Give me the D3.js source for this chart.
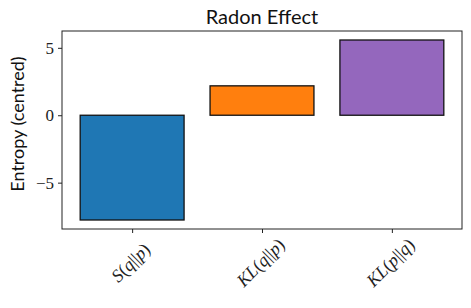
<!DOCTYPE html>
<html>
<head>
<meta charset="utf-8">
<script src="https://cdn.jsdelivr.net/npm/d3@7"></script>
<style>
  body { margin: 0; background: #fff; }
  .serif { font-family: 'Liberation Serif', 'DejaVu Serif', serif; }
  .sans { font-family: 'Lato', sans-serif; }
</style>
</head>
<body>
<div id="chart"></div>
<script>
// data
var categories = ["S(q||p)", "KL(q||p)", "KL(p||q)"];
var values = [-7.77, 2.18, 5.58];
var colors = ["#1f77b4", "#ff7f0e", "#9467bd"];
var yTicks = [-5, 0, 5];

var width = 471, height = 308;
var margin = {left: 62, right: 9, top: 31, bottom: 79};

var svg = d3.select("#chart").append("svg")
  .attr("width", width)
  .attr("height", height);

// matplotlib-like limits: bars of width 0.8 at 0,1,2 with 5% margins
var x = d3.scaleLinear()
  .domain([-0.54, 2.54])
  .range([margin.left, width - margin.right]);

var ymin = d3.min(values), ymax = d3.max(values);
var pad = (ymax - ymin) * 0.05;
var y = d3.scaleLinear()
  .domain([ymin - pad, ymax + pad])
  .range([height - margin.bottom, margin.top]);

// bars
svg.selectAll("rect.bar")
  .data(values).enter()
  .append("rect")
    .attr("class", "bar")
    .attr("x", function(d, i) { return x(i - 0.4); })
    .attr("width", function(d, i) { return x(i + 0.4) - x(i - 0.4); })
    .attr("y", function(d) { return y(Math.max(0, d)); })
    .attr("height", function(d) { return Math.abs(y(d) - y(0)); })
    .attr("fill", function(d, i) { return colors[i]; })
    .attr("stroke", "#111")
    .attr("stroke-width", 1.3);

// frame
svg.append("rect")
  .attr("x", margin.left)
  .attr("y", margin.top)
  .attr("width", width - margin.right - margin.left)
  .attr("height", height - margin.bottom - margin.top)
  .attr("fill", "none")
  .attr("stroke", "#222")
  .attr("stroke-width", 1);

// y axis
var yAxis = svg.append("g")
  .attr("transform", "translate(" + margin.left + ",0)")
  .call(d3.axisLeft(y).tickValues(yTicks).tickSize(4).tickPadding(4)
    .tickFormat(function(d) { return d < 0 ? "\u2212" + Math.abs(d) : d; }));
yAxis.attr("font-family", null);
yAxis.select(".domain").remove();
yAxis.selectAll(".tick text").attr("class", "serif").attr("font-size", 17).attr("fill", "#222");
yAxis.selectAll(".tick line").attr("stroke", "#222");

// x axis
var xAxis = svg.append("g")
  .attr("transform", "translate(0," + (height - margin.bottom) + ")")
  .call(d3.axisBottom(x).tickValues([0, 1, 2]).tickSize(4)
    .tickFormat(function(d) { return ""; }));
xAxis.select(".domain").remove();
xAxis.selectAll(".tick line").attr("stroke", "#222");

// rotated math labels
function mathLabel(g, s) {
  // italic letters, upright brackets and bars
  var m = s.match(/^([A-Z]+)\((\w)\|\|(\w)\)$/);
  var parts = [[m[1], true], ["(", false], [m[2], true], ["||", false], [m[3], true], [")", false]];
  var t = g.append("text")
    .attr("class", "serif")
    .attr("font-size", 18)
    .attr("fill", "#222")
    .attr("text-anchor", "middle")
    .attr("dominant-baseline", "middle");
  parts.forEach(function(p) {
    t.append("tspan").text(p[0]).attr("font-style", p[1] ? "italic" : "normal");
  });
}

categories.forEach(function(c, i) {
  var g = svg.append("g")
    .attr("transform", "translate(" + x(i) + "," + (height - margin.bottom + 35) + ") rotate(-45)");
  mathLabel(g, c);
});

// title
svg.append("text")
  .attr("class", "sans")
  .attr("x", (margin.left + width - margin.right) / 2)
  .attr("y", 24)
  .attr("text-anchor", "middle")
  .attr("font-size", 20)
  .attr("fill", "#111")
  .text("Radon Effect");

// y label
svg.append("text")
  .attr("class", "sans")
  .attr("transform", "translate(24," + ((margin.top + height - margin.bottom) / 2 - 6) + ") rotate(-90)")
  .attr("text-anchor", "middle")
  .attr("font-size", 18)
  .attr("fill", "#111")
  .text("Entropy (centred)");
</script>
</body>
</html>
